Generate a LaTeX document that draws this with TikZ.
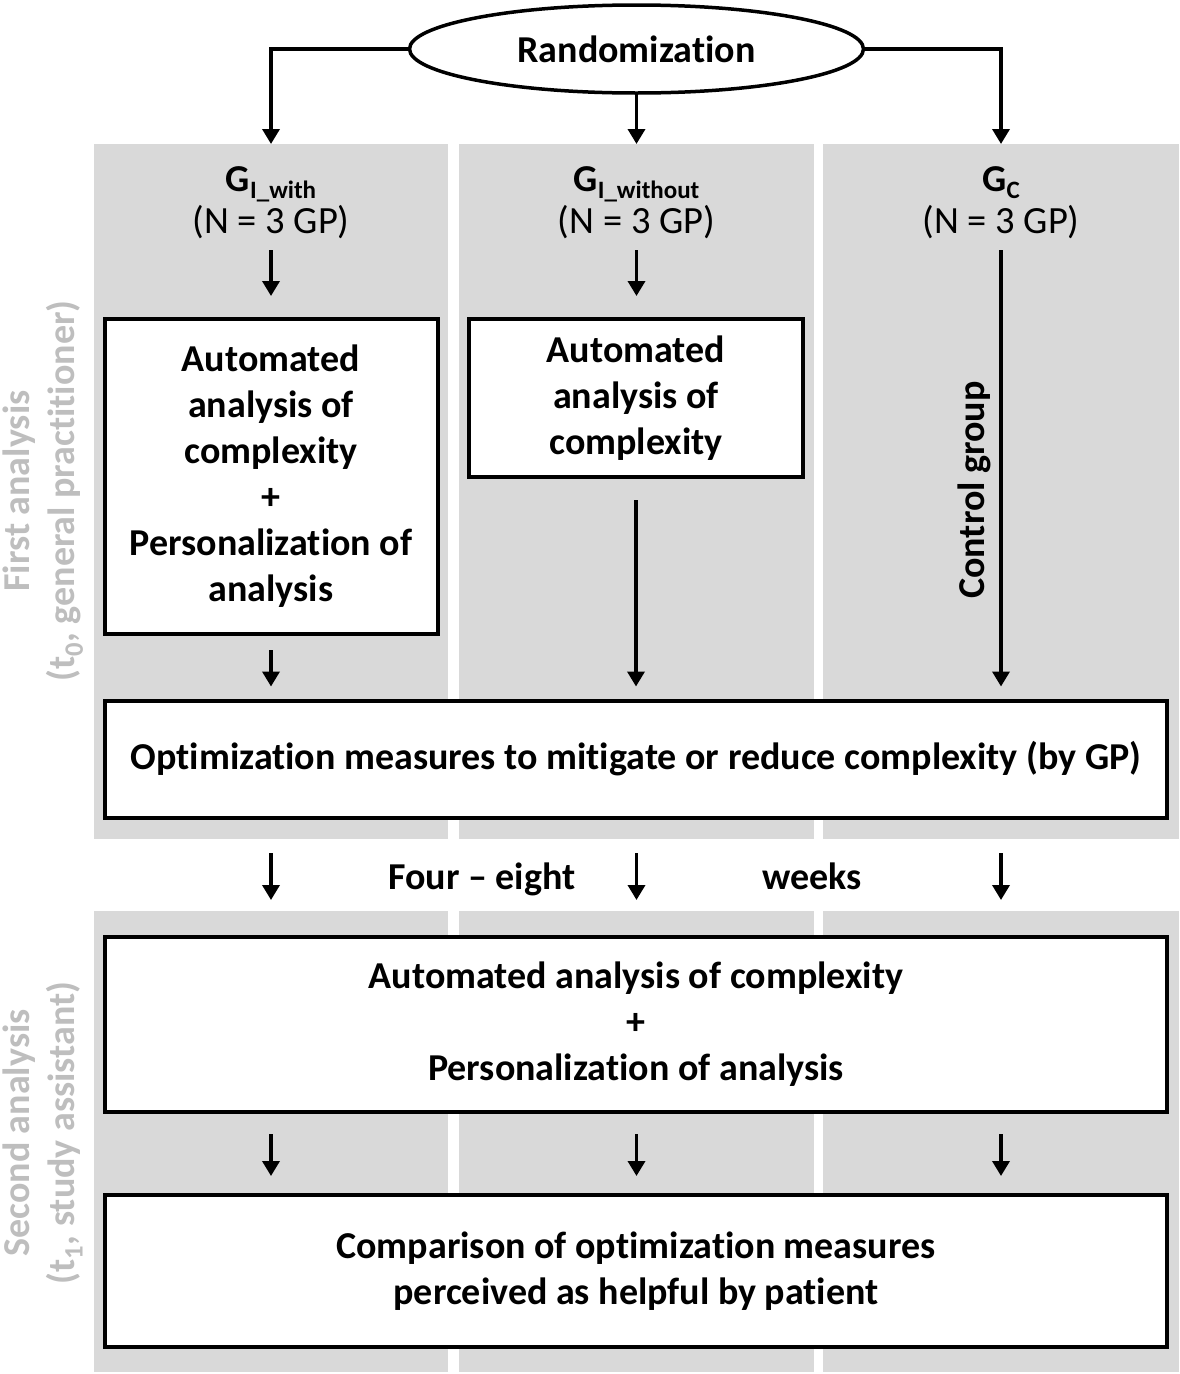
\documentclass[tikz,border=0pt]{standalone}
\usepackage{fontspec}
\setmainfont{Carlito}[Ligatures=NoCommon]
\usetikzlibrary{shapes.geometric,arrows.meta}
\definecolor{panelgray}{RGB}{217,217,217}
\definecolor{sidegray}{RGB}{190,190,190}
\newcommand\bigbold{\fontsize{38}{46}\selectfont\bfseries}
\newcommand\ntext{\fontsize{38.5}{46}\selectfont}
\newcommand\subfont{\fontsize{25}{25}\selectfont\bfseries}
\begin{document}
\begin{tikzpicture}[x=1pt,y=-1pt,
  panel/.style={fill=panelgray, draw=none, inner sep=0pt, outer sep=0pt},
  box/.style={draw=black, line width=4pt, fill=white, inner sep=0pt, align=center, font=\bigbold},
  arr/.style={line width=3.5pt, -{Triangle[width=17pt,length=15pt]}},
  lbl/.style={anchor=base, inner sep=0pt},
  side/.style={anchor=base, rotate=90, inner sep=0pt, text=sidegray, font=\bigbold},
  ]
\path[fill=white] (0,0) rectangle (1180,1374);
\useasboundingbox (0,0) rectangle (1180,1374);

% panels
\node[panel, minimum width=354pt, minimum height=695pt] (p1) at (271,491.5) {};
\node[panel, minimum width=355pt, minimum height=695pt] (p2) at (636.5,491.5) {};
\node[panel, minimum width=356pt, minimum height=695pt] (p3) at (1001,491.5) {};
\node[panel, minimum width=354pt, minimum height=461pt] (q1) at (271,1141.5) {};
\node[panel, minimum width=355pt, minimum height=461pt] (q2) at (636.5,1141.5) {};
\node[panel, minimum width=356pt, minimum height=461pt] (q3) at (1001,1141.5) {};

% side labels
\node[side] (s1) at (29,491) {First analysis};
\node[side] (s2) at (74,491) {(t\textsubscript{0}, general practitioner)};
\node[side] (s3) at (29,1133) {Second analysis};
\node[side] (s4) at (74,1133) {(t\textsubscript{1}, study assistant)};

% randomization
\node[ellipse, draw, line width=3.5pt, fill=white, minimum width=454pt, minimum height=88pt, inner sep=0pt, font=\bigbold] (rand) at (636.5,49) {Randomization};

% group labels
\node[lbl, font=\bigbold] (g1) at (271,191) {G\raisebox{-7pt}{\subfont I\_with}};
\node[lbl, font=\bigbold] (g2) at (636.5,191) {G\raisebox{-7pt}{\subfont I\_without}};
\node[lbl, font=\bigbold] (g3) at (1001,191) {G\raisebox{-7pt}{\subfont C}};
\node[lbl, font=\ntext] (n1) at (271,233) {(N = 3 GP)};
\node[lbl, font=\ntext] (n2) at (636.5,233) {(N = 3 GP)};
\node[lbl, font=\ntext] (n3) at (1001,233) {(N = 3 GP)};

% boxes
\node[box, minimum width=333pt, minimum height=315pt] (box1) at (271,476.5)
  {Automated\\analysis of\\complexity\\+\\Personalization of\\analysis};
\node[box, minimum width=334pt, minimum height=158pt] (box2) at (636,398)
  {Automated\\analysis of\\complexity};
\node[rotate=90, lbl, font=\bigbold] (ctrl) at (984,490) {Control group};
\node[box, minimum width=1062pt, minimum height=117pt] (opt) at (636,759)
  {Optimization measures to mitigate or reduce complexity (by GP)};
\node[box, minimum width=1062pt, minimum height=175pt] (box3) at (636,1024.5)
  {Automated analysis of complexity\\+\\Personalization of analysis};
\node[box, minimum width=1062pt, minimum height=152pt] (box4) at (636,1271)
  {Comparison of optimization measures\\perceived as helpful by patient};

\node[lbl, font=\bigbold] (w1) at (482,889) {Four -- eight};
\node[lbl, font=\bigbold] (w2) at (812,889) {weeks};

% connectors from randomization
\draw[arr] (rand.west) -| (p1.north);
\draw[arr] (rand.south) -- (p2.north);
\draw[arr] (rand.east) -| (p3.north);

% within first panel
\draw[arr, shorten <=17pt, shorten >=21pt] (n1.base) -- (n1.base |- box1.north);
\draw[arr, shorten <=17pt, shorten >=21pt] (n2.base) -- (n2.base |- box2.north);
\draw[arr, shorten <=14pt, shorten >=12pt] (box1.south) -- (box1.south |- opt.north);
\draw[arr, shorten <=21pt, shorten >=12pt] (box2.south) -- (box2.south |- opt.north);
\draw[arr, shorten <=17pt, shorten >=12pt] (n3.base) -- (n3.base |- opt.north);

% between panels
\draw[arr, shorten <=14pt, shorten >=11pt] (p1.south) -- (q1.north);
\draw[arr, shorten <=14pt, shorten >=11pt] (p2.south) -- (q2.north);
\draw[arr, shorten <=14pt, shorten >=11pt] (p3.south) -- (q3.north);

% second panel
\draw[arr, shorten <=20pt, shorten >=17pt] (box3.south -| p1.north) -- (box4.north -| p1.north);
\draw[arr, shorten <=20pt, shorten >=17pt] (box3.south -| p2.north) -- (box4.north -| p2.north);
\draw[arr, shorten <=20pt, shorten >=17pt] (box3.south -| p3.north) -- (box4.north -| p3.north);
\end{tikzpicture}
\end{document}
